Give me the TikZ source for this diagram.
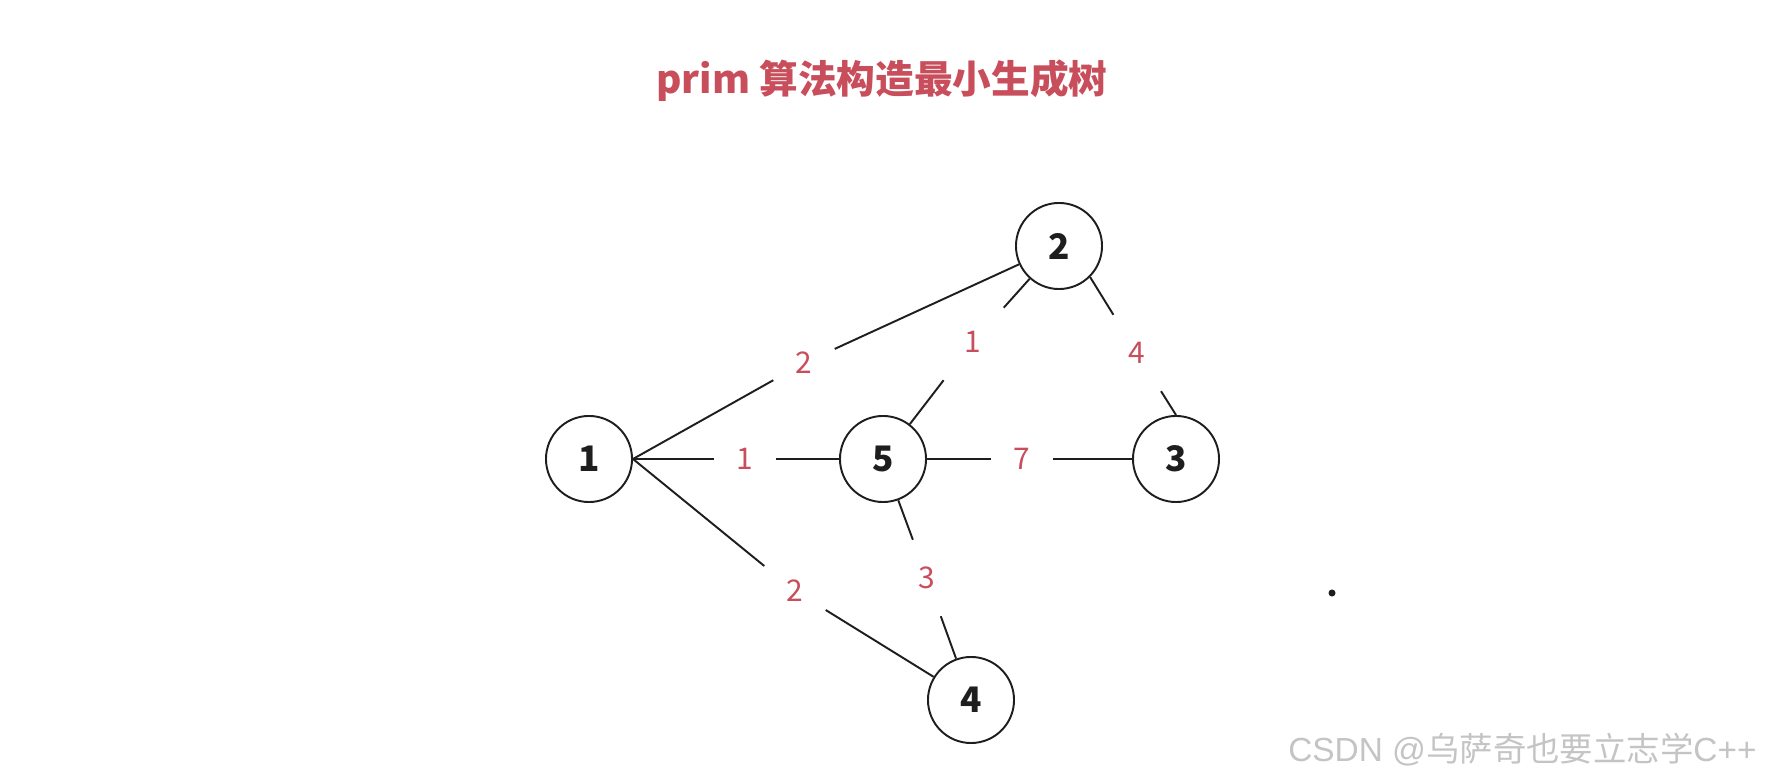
\documentclass[tikz,border=0pt]{standalone}
\usepackage{fontspec}
\setmainfont{Liberation Sans}
\newfontfamily\cjk{Noto Sans CJK SC}
\usetikzlibrary{positioning}
\definecolor{cred}{HTML}{C84E5C}
\definecolor{cink}{HTML}{1E1E1E}
\definecolor{cgrey}{HTML}{C4C4C4}

\begin{document}
\begin{tikzpicture}[x=0.01cm,y=-0.01cm,
  vertex/.style={draw=cink,circle,line width=0.55pt,minimum size=0.86cm,inner sep=0pt,
    text=cink,font=\cjk\bfseries\fontsize{10}{12}\selectfont},
  weight/.style={inner sep=0pt,minimum width=0.6cm,minimum height=0.75cm,
    text=cred,font=\cjk\fontsize{8.5}{10}\selectfont},
  link/.style={draw=cink,line width=0.55pt}]
  \useasboundingbox (0,0) rectangle (1770,783);
  \node[text=cred,font=\cjk\bfseries\fontsize{11}{13}\selectfont] (title) at (882,81) {prim 算法构造最小生成树};

  \node[vertex] (n1) at (589,459) {1};
  \node[vertex] (n5) at (883,459) {5};
  \node[vertex] (n3) at (1176,459) {3};
  \node[vertex] (n2) at (1059,246) {2};
  \node[vertex] (n4) at (971,700) {4};

  \node[weight] (w12) at (804,363) {2};
  \node[weight] (w15) at (745,459) {1};
  \node[weight] (w14) at (795,591) {2};
  \node[weight] (w52) at (973,342) {1};
  \node[weight] (w23) at (1137,353) {4};
  \node[weight] (w53) at (1022,459) {7};
  \node[weight] (w54) at (927,578) {3};

  \path[link] (n1.east) -- (w12) (w12) -- (n2);
  \path[link] (n1.east) -- (w15) (w15) -- (n5);
  \path[link] (n1.east) -- (w14) (w14) -- (n4);
  \path[link] (n5) -- (w52) (w52) -- (n2);
  \path[link] (n2.south east) -- (w23) (w23) -- (n3.north);
  \path[link] (n5) -- (w53) (w53) -- (n3);
  \path[link] (n5) -- (w54) (w54) -- (n4);

  \fill[cink] (1332,593) circle (1pt);
  \node[anchor=base east,text=cgrey,font=\fontsize{9.5}{11}\selectfont] (mark) at (1769,762)
    {CSDN @{\cjk 乌萨奇也要立志学}C++};
\end{tikzpicture}
\end{document}
